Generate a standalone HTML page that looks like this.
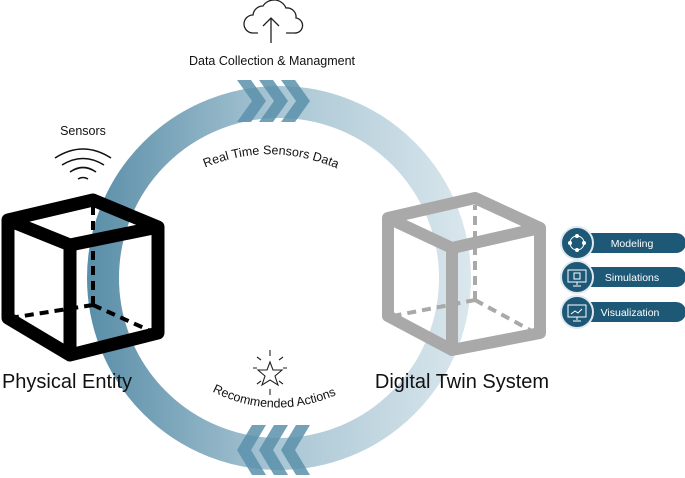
<!DOCTYPE html>
<html><head><style>
html,body{margin:0;padding:0;background:#fff;}
svg{display:block;font-family:"Liberation Sans",sans-serif;}
</style></head><body>
<svg width="685" height="478" viewBox="0 0 685 478">
<defs>
<linearGradient id="g" x1="88" y1="0" x2="470" y2="0" gradientUnits="userSpaceOnUse">
<stop offset="0" stop-color="#5a8ea8"/><stop offset="0.5" stop-color="#a9c6d4"/><stop offset="1" stop-color="#dae7ed"/>
</linearGradient>
<path id="t1" d="M191,174 Q270,134 351,175"/>
<path id="t2" d="M200,385 Q273,428 349,389"/>
</defs>
<circle cx="279" cy="278" r="176" fill="none" stroke="url(#g)" stroke-width="32"/>
<g fill="#5b91ab" opacity="0.85">
<polygon points="237,80 251,80 266,101 251,122 237,122 252,101"/>
<polygon points="259,80 273,80 288,101 273,122 259,122 274,101"/>
<polygon points="281,80 295,80 310,101 295,122 281,122 296,101"/>
<polygon points="266,425 252,425 237,450 252,475 266,475 251,450"/>
<polygon points="288,425 274,425 259,450 274,475 288,475 273,450"/>
<polygon points="310,425 296,425 281,450 296,475 310,475 295,450"/>
</g>
<g fill="none" stroke="#222" stroke-width="1.3">
<path d="M258,33 h-5 a9,9 0 0 1 0,-18 a10,10 0 0 1 10,-9 a13,13 0 0 1 23,2 a9,9 0 0 1 10,10 a7,7 0 0 1 -2,15 h-8"/>
<path d="M271,43 V18 M263,26 L271,18 L279,26"/>
</g>
<text x="272" y="65" font-size="12.5" text-anchor="middle" fill="#111">Data Collection &amp; Managment</text>
<text font-size="12.5" fill="#111"><textPath href="#t1" startOffset="50%" text-anchor="middle">Real Time Sensors Data</textPath></text>
<text font-size="12.5" fill="#111"><textPath href="#t2" startOffset="50%" text-anchor="middle">Recommended Actions</textPath></text>
<g fill="none" stroke="#222" stroke-width="1.1">
<polygon points="270,362 273,370 282,370 275,376 278,385 270,380 262,385 265,376 258,370 267,370"/>
<path d="M270,350v6 M270,389v6 M253,368h4 M283,368h4 M257,357l4,3 M283,357l-4,3 M257,384l4,-3 M283,384l-4,-3"/>
</g>
<text x="83" y="135" font-size="12.5" text-anchor="middle" fill="#111">Sensors</text>
<g fill="none" stroke="#111" stroke-width="1.6">
<path d="M55,158 Q83,140 111,158"/><path d="M62,165 Q83,152 104,165"/><path d="M70,172 Q83,163 96,172"/><path d="M78,179 Q83,176 88,179"/>
</g>
<g stroke="#000" fill="none" stroke-linejoin="round" stroke-linecap="round">
<g stroke-width="4" stroke-dasharray="9,6" stroke-linecap="butt"><path d="M93,305 V205 M93,305 L10,318 M93,305 L155,333"/></g>
<path stroke-width="13" d="M8,220 L93,200 L158,227 L70,245 Z M8,220 V318 L70,355 L158,333 V227 M70,245 V355"/>
</g>
<g stroke="#a9a9a9" fill="none" stroke-linejoin="round" stroke-linecap="round">
<g stroke-width="4" stroke-dasharray="9,6" stroke-linecap="butt"><path d="M475,300 V205 M475,300 L393,316 M475,300 L530,330"/></g>
<path stroke-width="12" d="M388,218 L475,198 L540,228 L452,248 Z M388,218 V316 L452,350 L540,333 V228 M452,248 V350"/>
</g>
<text x="67" y="388" font-size="20" text-anchor="middle" fill="#111">Physical Entity</text>
<text x="462" y="388" font-size="20" text-anchor="middle" fill="#111">Digital Twin System</text>
<g font-size="10.5" fill="#fff">
<rect x="580" y="233" width="106" height="20" rx="10" fill="#1e5877"/>
<rect x="580" y="267" width="106" height="20" rx="10" fill="#1e5877"/>
<rect x="580" y="302" width="106" height="20" rx="10" fill="#1e5877"/>
<circle cx="577" cy="243" r="16" fill="#1e5877" stroke="#dfe9ef" stroke-width="2"/>
<circle cx="577" cy="277" r="16" fill="#1e5877" stroke="#dfe9ef" stroke-width="2"/>
<circle cx="577" cy="312" r="16" fill="#1e5877" stroke="#dfe9ef" stroke-width="2"/>
<text x="632" y="247" text-anchor="middle">Modeling</text>
<text x="632" y="281" text-anchor="middle">Simulations</text>
<text x="630" y="316" text-anchor="middle">Visualization</text>
</g>
<g fill="none" stroke="#fff" stroke-width="1">
<circle cx="577" cy="243" r="7"/>
<rect x="568" y="270" width="18" height="12"/><path d="M577,282v3 M573,286h8"/>
<rect x="574" y="273" width="6" height="6"/>
<rect x="568" y="305" width="18" height="12"/><path d="M577,317v3 M573,321h8 M571,314l4,-3 3,2 4,-4"/>
</g>
<g fill="#fff"><circle cx="577" cy="236" r="2"/><circle cx="577" cy="250" r="2"/><circle cx="570" cy="243" r="2"/><circle cx="584" cy="243" r="2"/></g>
</svg>
</body></html>
